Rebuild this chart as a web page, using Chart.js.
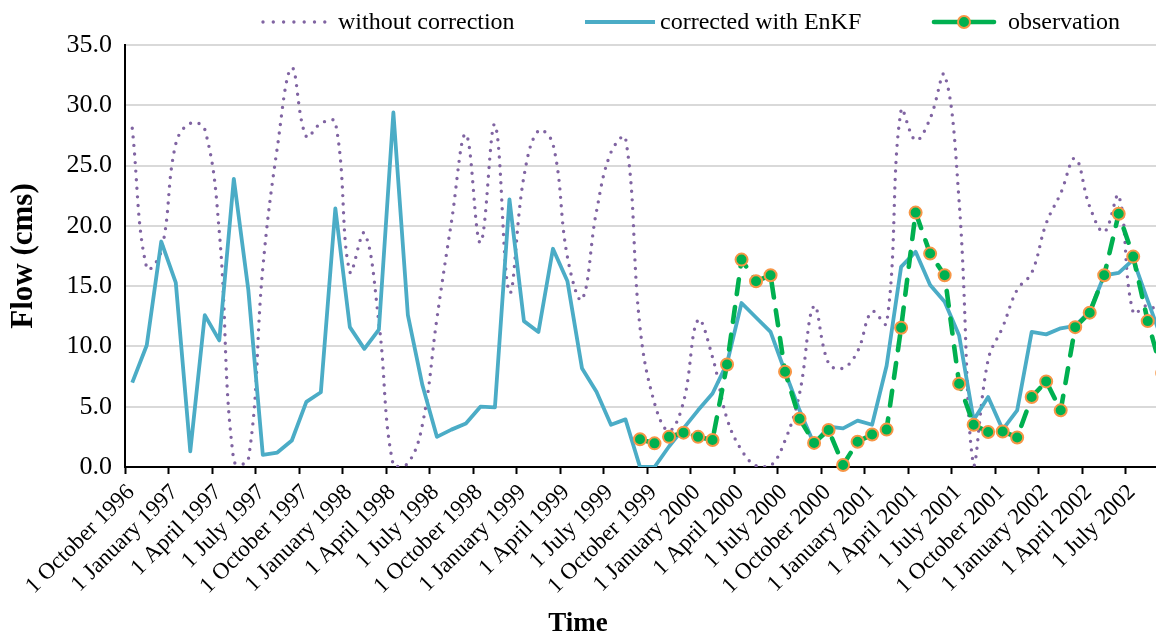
<!DOCTYPE html>
<html>
<head>
<meta charset="utf-8">
<script src="https://cdn.jsdelivr.net/npm/chart.js@4/dist/chart.umd.min.js"></script>
<style>
html,body{margin:0;padding:0;background:#fff;overflow:hidden;}
#wrap{width:1156px;height:636px;position:relative;}
canvas{display:block;}
</style>
</head>
<body>
<div id="wrap"><canvas id="c" width="1156" height="636"></canvas></div>
<script>
// ---- categories (monthly) ----
const months = [
  'Oct 1996','Nov 1996','Dec 1996',
  'Jan 1997','Feb 1997','Mar 1997','Apr 1997','May 1997','Jun 1997','Jul 1997','Aug 1997','Sep 1997','Oct 1997','Nov 1997','Dec 1997',
  'Jan 1998','Feb 1998','Mar 1998','Apr 1998','May 1998','Jun 1998','Jul 1998','Aug 1998','Sep 1998','Oct 1998','Nov 1998','Dec 1998',
  'Jan 1999','Feb 1999','Mar 1999','Apr 1999','May 1999','Jun 1999','Jul 1999','Aug 1999','Sep 1999','Oct 1999','Nov 1999','Dec 1999',
  'Jan 2000','Feb 2000','Mar 2000','Apr 2000','May 2000','Jun 2000','Jul 2000','Aug 2000','Sep 2000','Oct 2000','Nov 2000','Dec 2000',
  'Jan 2001','Feb 2001','Mar 2001','Apr 2001','May 2001','Jun 2001','Jul 2001','Aug 2001','Sep 2001','Oct 2001','Nov 2001','Dec 2001',
  'Jan 2002','Feb 2002','Mar 2002','Apr 2002','May 2002','Jun 2002','Jul 2002','Aug 2002','Sep 2002'
];

// ---- x tick labels ----
const tickLabels = [
  '1 October 1996','1 January 1997','1 April 1997','1 July 1997',
  '1 October 1997','1 January 1998','1 April 1998','1 July 1998',
  '1 October 1998','1 January 1999','1 April 1999','1 July 1999',
  '1 October 1999','1 January 2000','1 April 2000','1 July 2000',
  '1 October 2000','1 January 2001','1 April 2001','1 July 2001',
  '1 October 2001','1 January 2002','1 April 2002','1 July 2002'
];

// ---- series ----
const withoutCorrection = [
  28.1, 16.5, 17.9, 26.8, 28.5, 28.0, 19.5, 0.5, 0.6, 16.5, 26.5, 33.1,
  27.4, 28.5, 28.6, 16.2, 19.4, 12.0, 0.1, 0.3, 3.5, 12.3, 20.3, 27.6,
  18.6, 28.4, 14.5, 24.1, 27.9, 26.8, 17.4, 13.9, 21.2, 26.1, 27.3, 11.6,
  5.3, 3.0, 5.4, 12.2, 9.1, 4.0, 1.4, 0.1, 0.1, 2.2, 6.1, 13.35,
  8.6, 8.2, 9.6, 12.9, 11.9, 29.6, 27.1, 28.9, 32.5, 22.0, 0.1, 8.9,
  11.6, 14.7, 16.1, 20.2, 22.7, 25.6, 21.6, 19.5, 22.5, 12.8, 13.4, 12.5
];

const correctedEnKF = [
  7.0, 10.1, 18.7, 15.3, 1.3, 12.6, 10.5, 23.9, 14.7, 1.0, 1.2, 2.2,
  5.4, 6.2, 21.45, 11.6, 9.8, 11.4, 29.4, 12.6, 6.8, 2.5, 3.1, 3.6,
  5.0, 4.95, 22.2, 12.1, 11.2, 18.1, 15.4, 8.2, 6.25, 3.5, 3.95, 0.0,
  0.0, 1.7, 3.2, 4.7, 6.1, 8.6, 13.6, 12.4, 11.2, 7.9, 4.7, 1.9,
  3.35, 3.2, 3.85, 3.5, 8.4, 16.6, 17.85, 15.1, 13.7, 10.9, 3.9, 5.8,
  3.1, 4.7, 11.2, 11.0, 11.5, 11.7, 12.9, 15.9, 16.1, 17.2, 13.8, 10.5
];

const observationStart = 'Sep 1999';
const observation = [
  2.3, 1.96, 2.5, 2.85, 2.5, 2.24, 8.5, 17.2, 15.4, 15.9, 7.9, 4.0,
  2.0, 3.07, 0.17, 2.1, 2.7, 3.1, 11.55, 21.1, 17.7, 15.9, 6.9, 3.5,
  2.9, 2.95, 2.45, 5.8, 7.1, 4.7, 11.6, 12.8, 15.9, 21.0, 17.45, 12.1, 7.8
];

const seriesNames = ['without correction', 'corrected with EnKF', 'observation'];

// ---- build library data ----
const monthAbbr = {January:'Jan',February:'Feb',March:'Mar',April:'Apr',May:'May',June:'Jun',
  July:'Jul',August:'Aug',September:'Sep',October:'Oct',November:'Nov',December:'Dec'};
const tickValues = tickLabels.map(t => {
  const p = t.split(' ');
  return months.indexOf(monthAbbr[p[1]] + ' ' + p[2]) - 0.5;
});
const toPoints = arr => arr.map((v, i) => ({x: i, y: v}));
const obsOffset = months.indexOf(observationStart);
const obsPoints = observation.map((v, k) => ({x: obsOffset + k, y: v}));

const SERIF = '"Liberation Serif", "Times New Roman", serif';

const refLegend = {
  id: 'refLegend',
  afterDraw(chart, args, opts) {
    const ctx = chart.ctx;
    const y = opts.y;
    chart.data.datasets.forEach((ds, k) => {
      const it = opts.items[k];
      ctx.save();
      ctx.strokeStyle = ds.borderColor;
      ctx.lineWidth = ds.borderWidth;
      ctx.lineCap = ds.borderCapStyle || 'butt';
      ctx.setLineDash(it.dash || []);
      ctx.beginPath();
      ctx.moveTo(it.x0, y);
      ctx.lineTo(it.x1, y);
      ctx.stroke();
      if (ds.pointRadius > 0) {
        ctx.setLineDash([]);
        ctx.beginPath();
        ctx.arc((it.x0 + it.x1) / 2, y, ds.pointRadius, 0, Math.PI * 2);
        ctx.fillStyle = ds.pointBackgroundColor;
        ctx.fill();
        ctx.lineWidth = ds.pointBorderWidth;
        ctx.strokeStyle = ds.pointBorderColor;
        ctx.stroke();
      }
      ctx.fillStyle = '#000';
      ctx.font = opts.font;
      ctx.textBaseline = 'middle';
      ctx.textAlign = 'left';
      ctx.fillText(ds.label, it.tx, y + 1);
      ctx.restore();
    });
  }
};

new Chart(document.getElementById('c'), {
  type: 'line',
  data: {
    datasets: [
      {
        label: seriesNames[0],
        data: toPoints(withoutCorrection),
        borderColor: '#8064A2',
        borderWidth: 3.4,
        borderDash: [0, 8.6],
        borderCapStyle: 'round',
        tension: 0.4,
        pointRadius: 0,
        order: 3
      },
      {
        label: seriesNames[1],
        data: toPoints(correctedEnKF),
        borderColor: '#4BACC6',
        borderWidth: 3.8,
        borderJoinStyle: 'round',
        tension: 0,
        pointRadius: 0,
        order: 2
      },
      {
        label: seriesNames[2],
        data: obsPoints,
        borderColor: '#00B050',
        borderWidth: 4.6,
        borderDash: [15, 13],
        borderCapStyle: 'round',
        tension: 0,
        pointRadius: 6,
        pointBackgroundColor: '#00B050',
        pointBorderColor: '#F79646',
        pointBorderWidth: 2,
        clip: false,
        order: 1
      }
    ]
  },
  options: {
    responsive: false,
    animation: false,
    devicePixelRatio: 1,
    events: [],
    layout: { autoPadding: false, padding: { top: 45, left: 0, right: 0, bottom: 0 } },
    scales: {
      x: {
        type: 'linear',
        min: -0.5,
        max: 70.57,
        afterBuildTicks(scale) { scale.ticks = tickValues.map(v => ({value: v})); },
        afterFit(scale) { scale.height = 147.6; scale.paddingLeft = 0; scale.paddingRight = 0; },
        ticks: {
          autoSkip: false,
          maxRotation: 45,
          minRotation: 45,
          padding: 5,
          labelOffset: 6,
          color: '#000',
          font: { family: SERIF, size: 23 },
          callback: (v, i) => tickLabels[i]
        },
        grid: { drawOnChartArea: false, drawTicks: true, tickLength: 7, tickWidth: 2, tickColor: '#000' },
        border: { display: true, color: '#000', width: 2 }
      },
      y: {
        min: 0,
        max: 35,
        afterFit(scale) { scale.width = 125; scale.paddingTop = 0; scale.paddingBottom = 0; },
        ticks: {
          stepSize: 5,
          padding: 13,
          color: '#000',
          font: { family: SERIF, size: 26 },
          callback: v => Number(v).toFixed(1)
        },
        grid: { color: '#D9D9D9', lineWidth: 2, drawTicks: false },
        border: { display: true, color: '#000', width: 2 },
        title: {
          display: true,
          text: 'Flow (cms)',
          color: '#000',
          font: { family: SERIF, size: 31, weight: 'bold' },
          padding: { top: 5, bottom: 0 }
        }
      }
    },
    plugins: {
      legend: { display: false },
      tooltip: { enabled: false },
      title: {
        display: true,
        text: 'Time',
        position: 'bottom',
        color: '#000',
        font: { family: SERIF, size: 27, weight: 'bold', lineHeight: 0.7 },
        padding: { top: 0, bottom: 2.5 }
      },
      refLegend: {
        y: 22,
        font: '24px ' + SERIF,
        items: [
          { x0: 263, x1: 325, tx: 338, dash: [0, 10.3] },
          { x0: 585, x1: 655, tx: 660 },
          { x0: 934, x1: 994, tx: 1008 }
        ]
      }
    }
  },
  plugins: [refLegend]
});
</script>
</body>
</html>
